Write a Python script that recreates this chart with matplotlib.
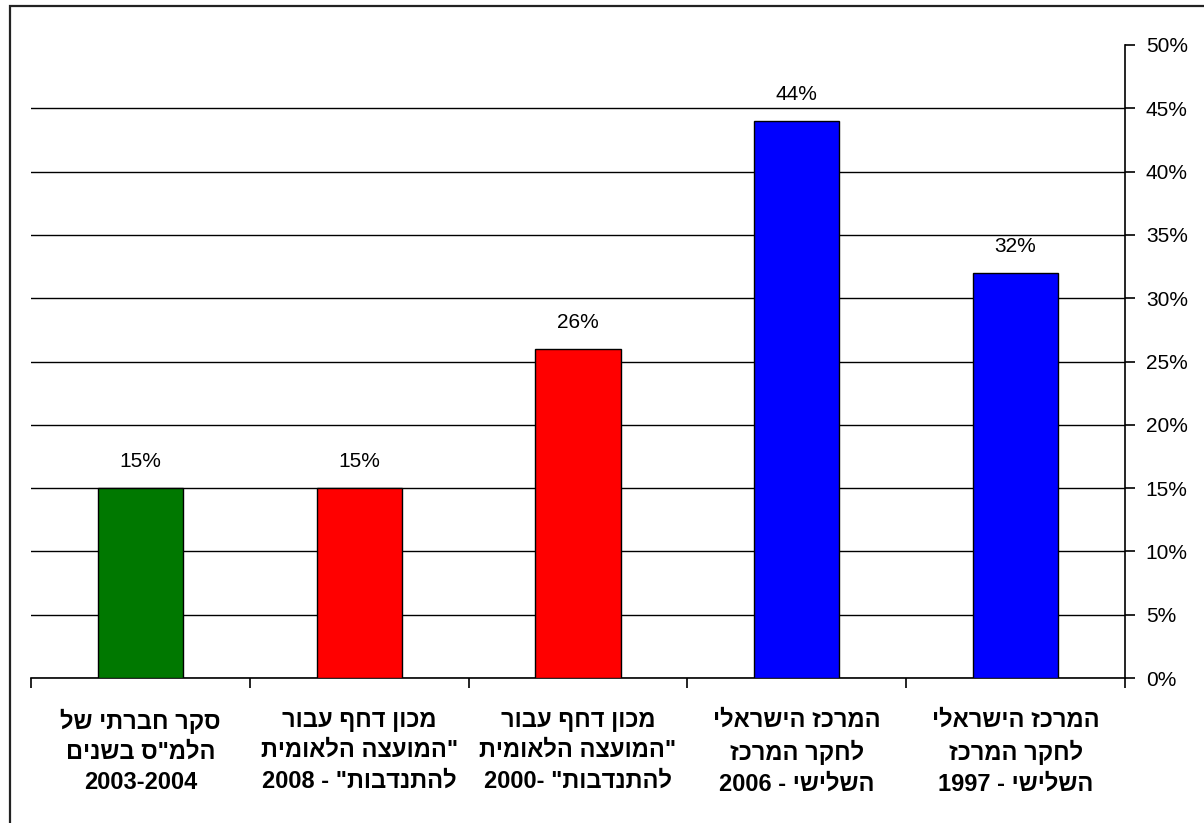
import re
import matplotlib
matplotlib.use("Agg")
import matplotlib.pyplot as plt
from matplotlib.patches import Rectangle
from matplotlib import ticker

plt.rcParams["font.family"] = ["Liberation Sans", "DejaVu Sans"]

# Categories (logical Hebrew order, one list entry per line)
categories = [
    ["סקר חברתי של", 'הלמ"ס בשנים', "2003-2004"],
    ["מכון דחף עבור", '"המועצה הלאומית', 'להתנדבות" - 2008'],
    ["מכון דחף עבור", '"המועצה הלאומית', 'להתנדבות" -2000'],
    ["המרכז הישראלי", "לחקר המרכז", "השלישי - 2006"],
    ["המרכז הישראלי", "לחקר המרכז", "השלישי - 1997"],
]
values = [0.15, 0.15, 0.26, 0.44, 0.32]
value_labels = ["15%", "15%", "26%", "44%", "32%"]
colors = ["#007800", "#FF0000", "#FF0000", "#0000FF", "#0000FF"]
y_ticks = [0, 0.05, 0.10, 0.15, 0.20, 0.25, 0.30, 0.35, 0.40, 0.45, 0.50]


def visual(line):
    # matplotlib has no bidi: turn a right-to-left line into display order
    parts = re.split(r"([0-9][0-9\-]*[0-9])", line)
    parts = [p for p in parts if p]
    out = []
    for p in reversed(parts):
        if re.fullmatch(r"[0-9][0-9\-]*[0-9]", p):
            out.append(p)
        else:
            out.append(p[::-1])
    return "".join(out)


fig = plt.figure(figsize=(12.04, 8.23), dpi=100)
W, H = 1204, 823

# outer chart border (right and bottom edges fall outside the picture)
fig.patches.append(Rectangle((10 / W, -10 / H), 1210 / W, 827 / H,
                             transform=fig.transFigure, fill=False,
                             edgecolor="#222222", linewidth=1.6))

ax = fig.add_axes([31 / W, (H - 678) / H, (1125 - 31) / W, (678 - 45) / H])

x = list(range(len(values)))
ax.bar(x, values, width=0.39, color=colors, edgecolor="black",
       linewidth=1.0, zorder=3)

for xi, v, lab in zip(x, values, value_labels):
    ax.annotate(lab, (xi, v), xytext=(0, 19), textcoords="offset points",
                ha="center", va="center", fontsize=15)

ax.set_xlim(-0.5, len(values) - 0.5)
ax.set_ylim(0, 0.5)

ax.yaxis.tick_right()
ax.set_yticks(y_ticks)
ax.yaxis.set_major_formatter(ticker.FuncFormatter(lambda v, p: f"{v * 100:.0f}%"))
ax.tick_params(axis="y", direction="out", length=7, width=1.2,
               labelsize=15, pad=8, colors="black")
ax.grid(axis="y", color="black", linewidth=1.0, zorder=1)
ax.get_ygridlines()[-1].set_visible(False)

ax.set_xticks(x)
ax.set_xticklabels(["\n".join(visual(l) for l in c) for c in categories],
                   fontsize=17, fontweight="bold", linespacing=1.41)
ax.set_xticks([i - 0.5 for i in range(len(values) + 1)], minor=True)
ax.tick_params(axis="x", which="major", length=0, pad=22)
ax.tick_params(axis="x", which="minor", direction="out", length=7, width=1.2)

for s in ("left", "top"):
    ax.spines[s].set_visible(False)
for s in ("right", "bottom"):
    ax.spines[s].set_linewidth(1.2)

fig.savefig("out.png", dpi=100)
